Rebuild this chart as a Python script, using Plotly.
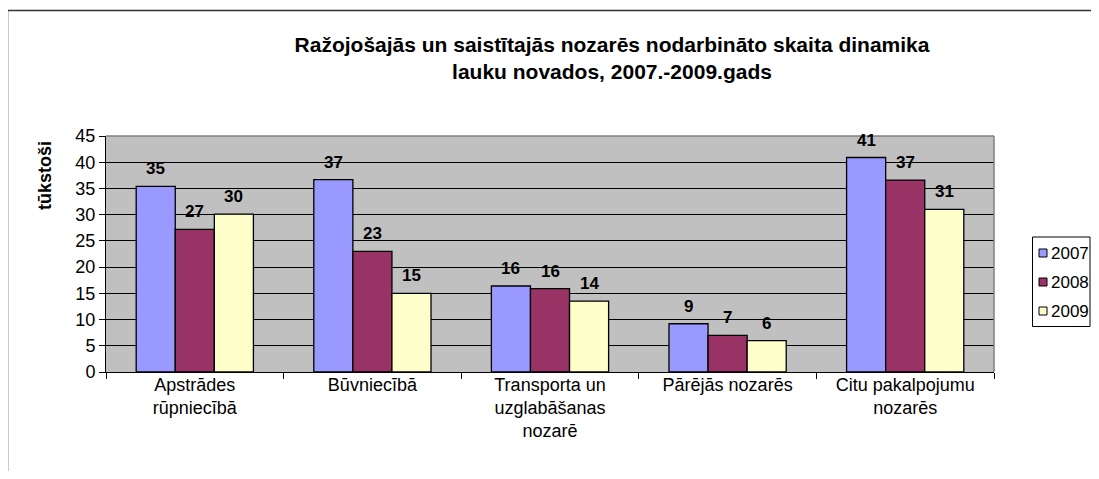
import plotly.graph_objects as go

categories = ["Apstrādes<br>rūpniecībā", "Būvniecībā", "Transporta un<br>uzglabāšanas<br>nozarē",
              "Pārējās nozarēs", "Citu pakalpojumu<br>nozarēs"]
years = ["2007", "2008", "2009"]
v2007 = [35.4, 36.7, 16.4, 9.2, 40.9]
v2008 = [27.2, 23.0, 15.9, 7.0, 36.6]
v2009 = [30.1, 15.0, 13.5, 6.0, 31.0]
series = [v2007, v2008, v2009]
colors = ["#9999FF", "#993366", "#FFFFCC"]
y_ticks = [0, 5, 10, 15, 20, 25, 30, 35, 40, 45]

FONT = "Arial, 'Liberation Sans', sans-serif"
OFF = 8  # page body margin
W, H = 1099 - 2 * OFF, 479 - 2 * OFF
# plot area in page pixels: x 106..994, y 136..372
L, T = 106 - OFF, 136 - OFF
R, B = W - (994 - OFF), H - (372 - OFF)
PW, PH = W - L - R, H - T - B


def px_x(px):
    return (px - OFF - L) / PW


def px_y(py):
    return (H - B - (py - OFF)) / PH


fig = go.Figure()
for yr, vals, col in zip(years, series, colors):
    fig.add_trace(go.Bar(
        x=categories, y=vals, name=yr, showlegend=False,
        marker=dict(color=col, line=dict(color="#000000", width=1.3)),
    ))

bargap = 0.34
slot = PW / len(categories)
barw = slot * (1 - bargap) / 3
annotations = []
for i, vals in enumerate(series):
    for c, v in zip(categories, vals):
        annotations.append(dict(
            x=c, y=v, xref="x", yref="y", text=f"<b>{v:.0f}</b>", showarrow=False,
            xanchor="center", yanchor="bottom", xshift=(i - 1) * barw, yshift=6,
            font=dict(family=FONT, size=17, color="#000000"),
        ))

annotations.append(dict(
    x=px_x(45), y=px_y(175), xref="paper", yref="paper", text="<b>tūkstoši</b>",
    xanchor="center", yanchor="middle",
    textangle=-90, showarrow=False, font=dict(family=FONT, size=18, color="#000000"),
))

shapes = [
    # plot area border (top/right grey)
    dict(type="line", xref="paper", yref="paper", x0=0, x1=1, y0=1, y1=1,
         line=dict(color="#808080", width=1.5), layer="above"),
    dict(type="line", xref="paper", yref="paper", x0=1, x1=1, y0=0, y1=1,
         line=dict(color="#808080", width=1.5), layer="above"),
    # outer chart border
    dict(type="line", xref="paper", yref="paper", x0=px_x(7.5), x1=px_x(1120),
         y0=px_y(10.5), y1=px_y(10.5), line=dict(color="#333333", width=1.5)),
    dict(type="line", xref="paper", yref="paper", x0=px_x(7.5), x1=px_x(7.5),
         y0=px_y(10.5), y1=px_y(500), line=dict(color="#333333", width=1.5)),
    # legend box
    dict(type="rect", xref="paper", yref="paper", x0=px_x(1032.5), x1=px_x(1090),
         y0=px_y(237), y1=px_y(326.5), line=dict(color="#000000", width=1),
         fillcolor="#FFFFFF"),
]

# manual legend entries
leg_y = [253, 282, 311]
for yr, col, ly in zip(years, colors, leg_y):
    shapes.append(dict(
        type="rect", xref="paper", yref="paper", x0=px_x(1039), x1=px_x(1047),
        y0=px_y(ly - 4), y1=px_y(ly + 4), fillcolor=col,
        line=dict(color="#000000", width=1),
    ))
    annotations.append(dict(
        x=px_x(1049), y=px_y(ly), xref="paper", yref="paper", text=yr,
        showarrow=False, xanchor="left", yanchor="middle",
        font=dict(family=FONT, size=17, color="#000000"),
    ))

fig.update_layout(
    width=W, height=H,
    margin=dict(l=L, r=R, t=T, b=B, autoexpand=False),
    paper_bgcolor="#FFFFFF", plot_bgcolor="#C0C0C0",
    barmode="group", bargap=bargap, bargroupgap=0,
    showlegend=False,
    title=dict(
        text="<b>Ražojošajās un saistītajās nozarēs nodarbināto skaita dinamika<br>lauku novados, 2007.-2009.gads</b>",
        x=(612 - OFF) / W, xanchor="center", xref="container",
        y=1 - (52 - OFF) / H, yanchor="top", yref="container",
        font=dict(family=FONT, size=21, color="#000000"),
    ),
    xaxis=dict(
        type="category", tickson="boundaries", ticks="outside", ticklen=6,
        tickcolor="#000000", showline=True, linecolor="#000000", linewidth=1,
        showgrid=False, tickfont=dict(family=FONT, size=18, color="#000000"),
        ticklabelstandoff=-4,
    ),
    yaxis=dict(
        range=[0, 45], tickvals=y_ticks, ticks="outside", ticklen=6, tickcolor="#000000",
        showline=True, linecolor="#000000", linewidth=1,
        showgrid=True, gridcolor="#000000", gridwidth=1, zeroline=False,
        tickfont=dict(family=FONT, size=18, color="#000000"),
    ),
    annotations=annotations,
    shapes=shapes,
)

fig.write_html("out.html")
